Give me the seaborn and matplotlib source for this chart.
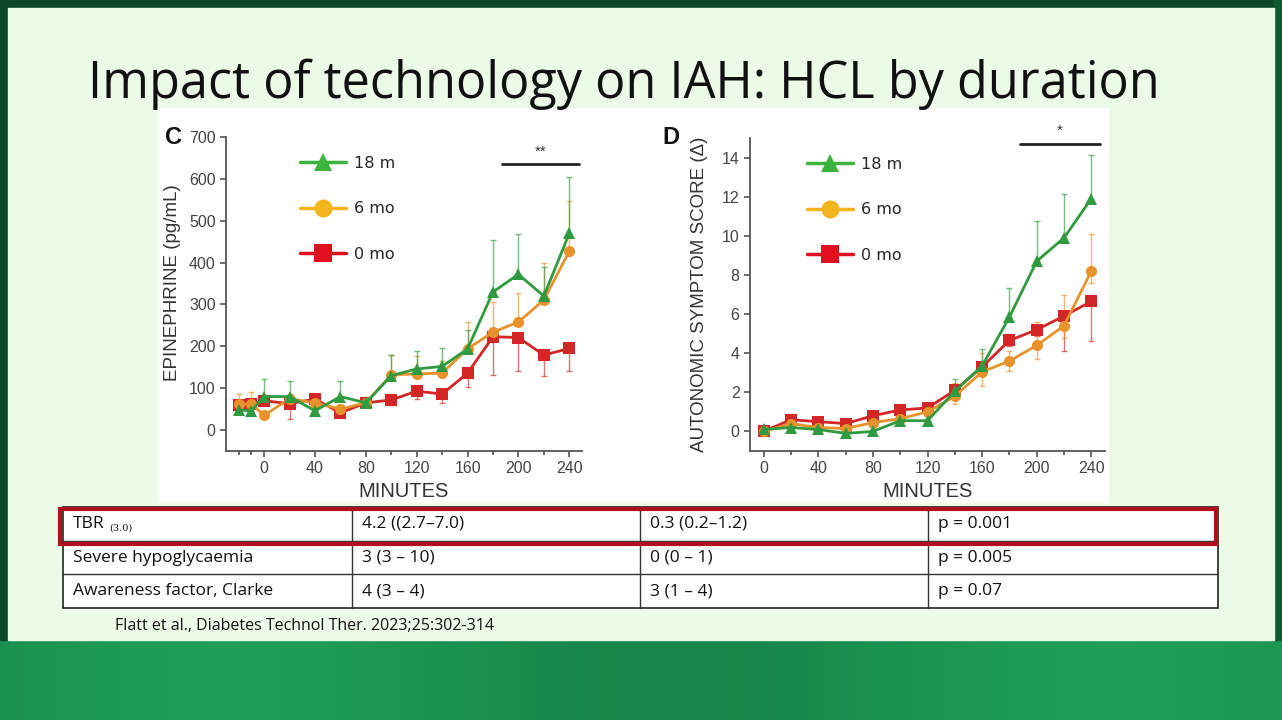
import numpy as np
import pandas as pd
import matplotlib
matplotlib.use('Agg')
import matplotlib.pyplot as plt
from matplotlib.lines import Line2D
from matplotlib.patches import Rectangle
import seaborn as sns

# ---- data ----
groups = ['0 mo', '6 mo', '18 m']
palette = {'18 m': '#2f9a3f', '6 mo': '#e8922c', '0 mo': '#d42626'}
legend_colors = {'18 m': '#3cb33c', '6 mo': '#f2b51e', '0 mo': '#e01020'}
markers = {'18 m': '^', '6 mo': 'o', '0 mo': 's'}

# panel C: epinephrine (pg/mL)
c_minutes = [-20, -10, 0, 20, 40, 60, 80, 100, 120, 140, 160, 180, 200, 220, 240]
c_18m = [48, 46, 80, 80, 46, 80, 65, 130, 146, 152, 194, 330, 372, 320, 470]
c_6mo = [62, 62, 35, 75, 65, 50, 65, 132, 134, 136, 194, 234, 258, 311, 427]
c_0mo = [60, 62, 70, 63, 74, 41, 65, 72, 93, 86, 136, 223, 221, 179, 195]
c_18m_up = [8, 8, 42, 38, 10, 38, 15, 50, 44, 43, 46, 125, 96, 70, 135]
c_6mo_up = [25, 28, 10, 10, 10, 10, 10, 48, 44, 30, 63, 71, 70, 89, 120]
c_0mo_dn = [10, 10, 10, 36, 10, 10, 10, 12, 18, 21, 33, 91, 79, 51, 53]

# panel D: autonomic symptom score
d_minutes = [0, 20, 40, 60, 80, 100, 120, 140, 160, 180, 200, 220, 240]
d_18m = [0.1, 0.2, 0.1, -0.1, 0.0, 0.55, 0.55, 2.05, 3.35, 5.85, 8.7, 9.9, 11.9]
d_6mo = [0.0, 0.4, 0.2, 0.15, 0.45, 0.65, 1.0, 1.8, 3.05, 3.6, 4.4, 5.4, 8.2]
d_0mo = [0.0, 0.6, 0.5, 0.4, 0.8, 1.1, 1.2, 2.1, 3.3, 4.65, 5.2, 5.9, 6.65]
d_18m_up = [0.1, 0.1, 0.1, 0.1, 0.1, 0.15, 0.15, 0.65, 0.85, 1.5, 2.05, 2.25, 2.25]
d_6mo_up = [0.1, 0.1, 0.1, 0.1, 0.1, 0.1, 0.15, 0.7, 0.95, 0.5, 1.2, 1.6, 1.9]
d_6mo_dn = [0.1, 0.1, 0.1, 0.1, 0.1, 0.1, 0.1, 0.4, 0.75, 0.5, 0.7, 0.6, 0.6]
d_0mo_dn = [0.1, 0.1, 0.1, 0.1, 0.1, 0.1, 0.1, 0.3, 0.3, 0.3, 0.3, 1.8, 2.05]

title = 'Impact of technology on IAH: HCL by duration'
table_rows = [
    ['TBR', '4.2 ((2.7\u20137.0)', '0.3 (0.2\u20131.2)', 'p = 0.001'],
    ['Severe hypoglycaemia', '3 (3 \u2013 10)', '0 (0 \u2013 1)', 'p = 0.005'],
    ['Awareness factor, Clarke', '4 (3 \u2013 4)', '3 (1 \u2013 4)', 'p = 0.07'],
]
citation = 'Flatt et al., Diabetes Technol Ther. 2023;25:302-314'

sns.set_style('ticks')
plt.rcParams['font.family'] = ['Liberation Sans', 'DejaVu Sans']

W, H = 1282, 720
fig = plt.figure(figsize=(W / 100, H / 100), dpi=100)

# ---- slide background in pixel coordinates ----
bg = fig.add_axes([0, 0, 1, 1])
bg.set_xlim(0, W)
bg.set_ylim(H, 0)
bg.axis('off')
grad = np.linspace(0, 1, 256)[None, :]
bg.imshow(np.sin(grad * 9) * 0.5 + 0.5, extent=[0, W, H, 0], aspect='auto',
          cmap=matplotlib.colors.LinearSegmentedColormap.from_list('g', ['#17864a', '#1f9d5a']),
          zorder=0)
bg.add_patch(Rectangle((0, 0), W, 8, color='#0b4726', zorder=1))
bg.add_patch(Rectangle((0, 0), 8, 640, color='#0b4726', zorder=1))
bg.add_patch(Rectangle((1274, 0), 8, 640, color='#0f5a30', zorder=1))
bg.add_patch(Rectangle((8, 8), 1266, 632, color='#ebfbe7', zorder=2))
bg.add_patch(Rectangle((158, 108), 950, 394, color='white', zorder=3))

bg.text(624, 84, title, ha='center', va='center', fontsize=36.4,
        family=['Open Sans', 'DejaVu Sans'], color='#111111', zorder=4)

# table
col_x = [63, 352, 640, 928, 1218]
row_y = [507, 541, 574, 608]
bg.add_patch(Rectangle((col_x[0], row_y[0]), col_x[-1] - col_x[0], row_y[-1] - row_y[0],
                       facecolor='white', edgecolor='#222222', lw=1.2, zorder=4))
for y in row_y[1:-1]:
    bg.plot([col_x[0], col_x[-1]], [y, y], color='#333333', lw=1, zorder=5)
for x in col_x[1:-1]:
    bg.plot([x, x], [row_y[0], row_y[-1]], color='#333333', lw=1, zorder=5)
for r, row in enumerate(table_rows):
    yc = (row_y[r] + row_y[r + 1]) / 2
    for c, cell in enumerate(row):
        bg.text(col_x[c] + 10, yc, cell, ha='left', va='center', fontsize=12.5,
                family=['Open Sans', 'DejaVu Sans'], color='#111111', zorder=6)
bg.text(109, 528, '(3.0)', ha='left', va='center', fontsize=7,
        family=['DejaVu Serif'], color='#111111', zorder=6)
bg.add_patch(Rectangle((60, 509), 1156, 35, facecolor='none', edgecolor='#b0101e',
                       lw=3, zorder=7))
bg.text(115, 626, citation, ha='left', va='center', fontsize=11.5,
        family=['Open Sans', 'DejaVu Sans'], color='#111111', zorder=4)


def panel(rect, minutes, series, errs, xlim, ylim, yticks, xticks, minor, ylabel, letter,
          letter_x, sig, star, leg_xy, ylabel_xy):
    ax = fig.add_axes([rect[0] / W, 1 - rect[3] / H, (rect[2] - rect[0]) / W,
                       (rect[3] - rect[1]) / H])
    ax.patch.set_alpha(0)
    aw, ah = rect[2] - rect[0], rect[3] - rect[1]
    rows = []
    for g in groups:
        for m, v in zip(minutes, series[g]):
            rows.append({'minutes': m, 'value': v, 'group': g})
    df = pd.DataFrame(rows)
    for g in groups:
        lo, hi = errs[g]
        ax.errorbar(minutes, series[g], yerr=[lo, hi], fmt='none', ecolor=palette[g],
                    elinewidth=1, capsize=2.5, capthick=1, alpha=0.65, zorder=2)
    sns.lineplot(data=df, x='minutes', y='value', hue='group', style='group',
                 hue_order=groups, style_order=groups, palette=palette, markers=markers,
                 dashes=False, markersize=8, markeredgewidth=0, linewidth=2,
                 estimator=None, legend=False, ax=ax, zorder=3)
    ax.set_xlim(*xlim)
    ax.set_ylim(*ylim)
    ax.set_xticks(xticks)
    ax.set_xticks(minor, minor=True)
    ax.set_yticks(yticks)
    sns.despine(ax=ax)
    for s in ['left', 'bottom']:
        ax.spines[s].set_color('#555555')
        ax.spines[s].set_linewidth(1.3)
    ax.tick_params(axis='both', which='major', labelsize=11.5, colors='#555555',
                   labelcolor='#444444', length=4, width=1.2)
    ax.tick_params(axis='both', which='minor', length=3, width=1.2, colors='#555555')
    ax.set_xlabel('MINUTES', fontsize=14.5, color='#333333', labelpad=4)
    ax.set_ylabel(ylabel, fontsize=13.5, color='#333333')
    ax.yaxis.set_label_coords((ylabel_xy[0] - rect[0]) / aw, ylabel_xy[1])
    ax.text((letter_x - rect[0]) / aw, 1.0, letter, transform=ax.transAxes, fontsize=17,
            fontweight='bold', ha='center', va='center', color='#111111')
    ax.plot(sig[0], [sig[1], sig[1]], color='#222222', lw=2, clip_on=False)
    ax.text(np.mean(sig[0]), sig[2], star, ha='center', va='center', fontsize=11,
            color='#333333', clip_on=False)
    handles = [Line2D([0], [0], color=legend_colors[g], marker=markers[g], markersize=13,
                      lw=2.5, markeredgewidth=0) for g in ['18 m', '6 mo', '0 mo']]
    ax.legend(handles, ['18 m', '6 mo', '0 mo'], loc='upper left',
              bbox_to_anchor=((leg_xy[0] - rect[0]) / aw, 1 - (leg_xy[1] - rect[1]) / ah),
              frameon=False, handlelength=2.9, labelspacing=1.9, handletextpad=0.45,
              borderaxespad=0, borderpad=0,
              prop={'family': 'DejaVu Sans', 'size': 11.5})
    return ax


panel((226, 137, 582, 451), c_minutes,
      {'18 m': c_18m, '6 mo': c_6mo, '0 mo': c_0mo},
      {'18 m': ([0] * len(c_18m), c_18m_up), '6 mo': ([0] * len(c_6mo), c_6mo_up),
       '0 mo': (c_0mo_dn, [0] * len(c_0mo))},
      (-30, 250), (-50, 700), range(0, 701, 100), range(0, 241, 40),
      [-20, -10] + list(range(20, 240, 40)), 'EPINEPHRINE (pg/mL)', 'C', 173,
      ((187, 248), 636, 665), '**', (300, 156), (181, 0.535))

panel((750, 138, 1105, 451), d_minutes,
      {'18 m': d_18m, '6 mo': d_6mo, '0 mo': d_0mo},
      {'18 m': ([0] * len(d_18m), d_18m_up), '6 mo': (d_6mo_dn, d_6mo_up),
       '0 mo': (d_0mo_dn, [0] * len(d_0mo))},
      (-10, 250), (-1, 15), range(0, 15, 2), range(0, 241, 40),
      list(range(20, 240, 40)), 'AUTONOMIC SYMPTOM SCORE (\u0394)', 'D', 671,
      ((188, 246), 14.7, 15.35), '*', (807, 157), (708, 0.5))

fig.savefig('out.png', dpi=100)
